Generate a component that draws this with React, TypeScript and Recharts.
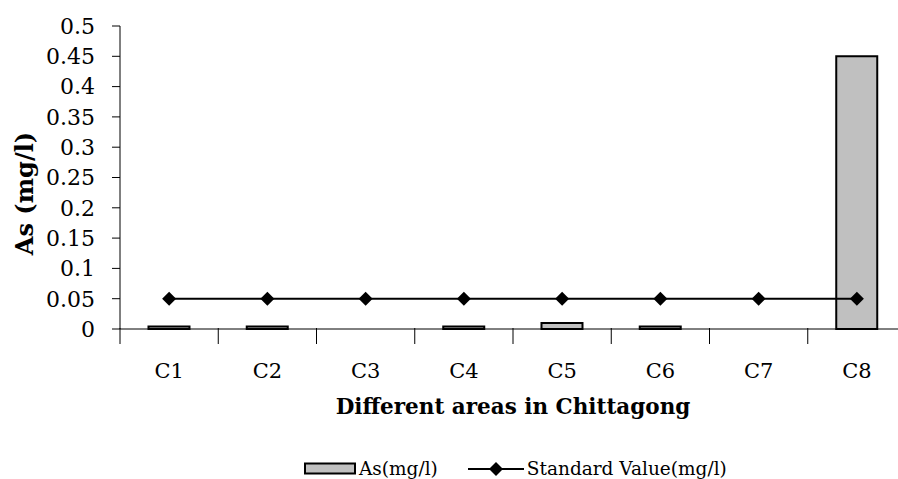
import React from 'react';
import {
  ComposedChart,
  Bar,
  Line,
  XAxis,
  YAxis,
  Legend,
} from 'recharts';

const areas = ['C1', 'C2', 'C3', 'C4', 'C5', 'C6', 'C7', 'C8'];
const arsenic = [0.004, 0.004, 0, 0.004, 0.01, 0.004, 0, 0.45];
const standardValue = [0.05, 0.05, 0.05, 0.05, 0.05, 0.05, 0.05, 0.05];
const yTicks = [0, 0.05, 0.1, 0.15, 0.2, 0.25, 0.3, 0.35, 0.4, 0.45, 0.5];

const data = areas.map((name, i) => ({
  name,
  as: arsenic[i],
  std: standardValue[i],
}));

const FONT = '"DejaVu Serif", serif';
const CHART_W = 920;
const MARGIN = { top: 26, right: 14, left: 0, bottom: 0 };
const Y_AXIS_W = 120;
const BAND = (CHART_W - MARGIN.left - MARGIN.right - Y_AXIS_W) / areas.length;

const Diamond = (props: any) => {
  const { cx, cy } = props;
  if (cx == null || cy == null) return null;
  const r = 7;
  return (
    <polygon
      points={`${cx},${cy - r} ${cx + r},${cy} ${cx},${cy + r} ${cx - r},${cy}`}
      fill="#000"
    />
  );
};

// category ticks sit between the columns, like the spreadsheet original
const CategoryTick = (props: any) => {
  const { x, y, payload } = props;
  const left = x - BAND / 2;
  return (
    <g>
      <line x1={left} y1={y - 9} x2={left} y2={y + 7} stroke="#000" />
      {payload.index === areas.length - 1 && (
        <line x1={left + BAND} y1={y - 9} x2={left + BAND} y2={y + 7} stroke="#000" />
      )}
      <text x={x} y={y + 41} textAnchor="middle" fill="#000" fontSize={21} fontFamily={FONT}>
        {payload.value}
      </text>
    </g>
  );
};

const YTitle = (props: any) => {
  const { viewBox } = props;
  const cx = 24;
  const cy = viewBox.y + viewBox.height / 2 + 16;
  return (
    <text
      x={cx}
      y={cy}
      transform={`rotate(-90, ${cx}, ${cy})`}
      textAnchor="middle"
      dominantBaseline="central"
      fill="#000"
      fontSize={24}
      fontWeight="bold"
      fontFamily={FONT}
    >
      As (mg/l)
    </text>
  );
};

const renderLegend = () => (
  <div
    style={{
      display: 'flex',
      justifyContent: 'flex-start',
      alignItems: 'center',
      fontFamily: FONT,
      fontSize: 18.5,
      color: '#000',
      paddingLeft: 304,
      paddingTop: 3,
    }}
  >
    <svg width={53} height={13}>
      <rect x={1} y={1.5} width={50} height={10} fill="#C0C0C0" stroke="#000" strokeWidth={2} />
    </svg>
    <span style={{ marginLeft: 2, marginRight: 30 }}>As(mg/l)</span>
    <svg width={56} height={16}>
      <line x1={0} y1={8} x2={56} y2={8} stroke="#000" strokeWidth={2} />
      <polygon points="28,1 35,8 28,15 21,8" fill="#000" />
    </svg>
    <span style={{ marginLeft: 3 }}>Standard Value(mg/l)</span>
  </div>
);

export default function App() {
  return (
    <div style={{ position: 'absolute', left: 0, top: 0, width: 898, height: 479, overflow: 'hidden', background: '#fff' }}>
      <ComposedChart
        width={CHART_W}
        height={479}
        data={data}
        margin={MARGIN}
        barCategoryGap="29%"
      >
        <XAxis
          dataKey="name"
          stroke="#000"
          tickLine={false}
          tick={<CategoryTick />}
          height={126}
          interval={0}
          label={{
            value: 'Different areas in Chittagong',
            position: 'insideTop',
            offset: 70,
            fill: '#000',
            fontSize: 21.5,
            fontWeight: 'bold',
            fontFamily: FONT,
          }}
        />
        <YAxis
          width={Y_AXIS_W}
          domain={[0, 0.5]}
          ticks={yTicks}
          interval={0}
          stroke="#000"
          tickSize={8}
          tickMargin={17}
          tick={{ fill: '#000', fontSize: 22, fontFamily: FONT }}
          label={<YTitle />}
        />
        <Legend verticalAlign="bottom" height={24} content={renderLegend} />
        <Bar
          dataKey="as"
          name="As(mg/l)"
          fill="#C0C0C0"
          stroke="#000"
          strokeWidth={2}
          isAnimationActive={false}
        />
        <Line
          dataKey="std"
          name="Standard Value(mg/l)"
          stroke="#000"
          strokeWidth={2}
          dot={<Diamond />}
          activeDot={false}
          isAnimationActive={false}
        />
      </ComposedChart>
    </div>
  );
}
